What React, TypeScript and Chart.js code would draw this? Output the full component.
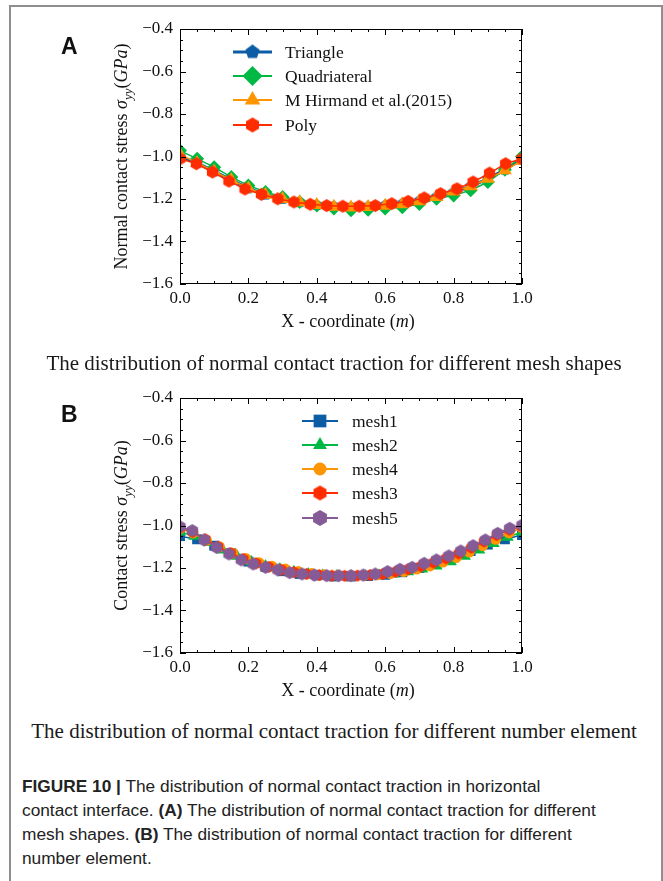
import React, { useEffect, useRef } from 'react';
import { Chart, registerables } from 'chart.js';
import { drawPoint } from 'chart.js/helpers';
Chart.register(...registerables);

// ---------- tick values ----------
const xTicks = [0, 0.2, 0.4, 0.6, 0.8, 1.0];
const yTicks = [-1.6, -1.4, -1.2, -1.0, -0.8, -0.6, -0.4];
const xMinor = [0.05, 0.1, 0.15, 0.25, 0.3, 0.35, 0.45, 0.5, 0.55, 0.65, 0.7, 0.75, 0.85, 0.9, 0.95];
const yMinor = [-1.55, -1.5, -1.45, -1.35, -1.3, -1.25, -1.15, -1.1, -1.05, -0.95, -0.9, -0.85, -0.75, -0.7, -0.65, -0.55, -0.5, -0.45];

// ---------- node coordinates ----------
const x21 = [0, 0.05, 0.1, 0.15, 0.2, 0.25, 0.3, 0.35, 0.4, 0.45, 0.5, 0.55, 0.6, 0.65, 0.7, 0.75, 0.8, 0.85, 0.9, 0.95, 1.0];
const x22 = [0, 0.048, 0.095, 0.143, 0.19, 0.238, 0.286, 0.333, 0.381, 0.429, 0.476, 0.524, 0.571, 0.619, 0.667, 0.714, 0.762, 0.81, 0.857, 0.905, 0.952, 1.0];
const x25 = [0, 0.042, 0.083, 0.125, 0.167, 0.208, 0.25, 0.292, 0.333, 0.375, 0.417, 0.458, 0.5, 0.542, 0.583, 0.625, 0.667, 0.708, 0.75, 0.792, 0.833, 0.875, 0.917, 0.958, 1.0];
const x27 = [0, 0.038, 0.077, 0.115, 0.154, 0.192, 0.231, 0.269, 0.308, 0.346, 0.385, 0.423, 0.462, 0.5, 0.538, 0.577, 0.615, 0.654, 0.692, 0.731, 0.769, 0.808, 0.846, 0.885, 0.923, 0.962, 1.0];
const x28 = [0, 0.037, 0.074, 0.111, 0.148, 0.185, 0.222, 0.259, 0.296, 0.333, 0.37, 0.407, 0.444, 0.481, 0.519, 0.556, 0.593, 0.63, 0.667, 0.704, 0.741, 0.778, 0.815, 0.852, 0.889, 0.926, 0.963, 1.0];
const x29 = [0, 0.036, 0.071, 0.107, 0.143, 0.179, 0.214, 0.25, 0.286, 0.321, 0.357, 0.393, 0.429, 0.464, 0.5, 0.536, 0.571, 0.607, 0.643, 0.679, 0.714, 0.75, 0.786, 0.821, 0.857, 0.893, 0.929, 0.964, 1.0];

// ---------- panel A series ----------
const triangleY = [-1.0, -1.03, -1.07, -1.11, -1.15, -1.18, -1.2, -1.215, -1.228, -1.235, -1.238, -1.236, -1.23, -1.222, -1.208, -1.19, -1.168, -1.14, -1.105, -1.062, -1.01];
const quadY = [-0.972, -1.011, -1.05, -1.097, -1.136, -1.167, -1.191, -1.214, -1.23, -1.245, -1.253, -1.25, -1.245, -1.239, -1.224, -1.199, -1.183, -1.159, -1.12, -1.062, -1.0];
const hirmandY = [-0.99, -1.03, -1.07, -1.11, -1.15, -1.18, -1.2, -1.215, -1.228, -1.236, -1.24, -1.238, -1.232, -1.225, -1.21, -1.19, -1.165, -1.14, -1.105, -1.065, -1.02];
const polyY = [-1.011, -1.034, -1.073, -1.116, -1.153, -1.178, -1.199, -1.214, -1.225, -1.231, -1.234, -1.234, -1.231, -1.222, -1.211, -1.195, -1.175, -1.152, -1.12, -1.078, -1.034, -1.011];

// ---------- panel B series ----------
const mesh1Y = [-1.05, -1.065, -1.095, -1.13, -1.17, -1.195, -1.215, -1.228, -1.235, -1.24, -1.24, -1.238, -1.232, -1.22, -1.2, -1.178, -1.15, -1.12, -1.09, -1.065, -1.045];
const mesh2Y = [-1.03, -1.05, -1.08, -1.115, -1.145, -1.17, -1.19, -1.205, -1.218, -1.228, -1.235, -1.238, -1.24, -1.238, -1.235, -1.228, -1.218, -1.205, -1.19, -1.17, -1.145, -1.115, -1.085, -1.055, -1.03];
const mesh4Y = [-1.015, -1.035, -1.07, -1.1, -1.13, -1.155, -1.175, -1.192, -1.205, -1.217, -1.226, -1.232, -1.235, -1.237, -1.235, -1.232, -1.226, -1.217, -1.205, -1.19, -1.172, -1.15, -1.125, -1.095, -1.065, -1.035, -1.01];
const mesh3Y = [-1.01, -1.03, -1.065, -1.1, -1.13, -1.158, -1.178, -1.195, -1.208, -1.22, -1.228, -1.233, -1.236, -1.237, -1.236, -1.233, -1.228, -1.218, -1.206, -1.192, -1.175, -1.155, -1.132, -1.105, -1.075, -1.045, -1.02, -1.005];
const mesh5Y = [-1.006, -1.024, -1.068, -1.103, -1.134, -1.162, -1.181, -1.197, -1.209, -1.222, -1.228, -1.233, -1.236, -1.236, -1.236, -1.233, -1.228, -1.217, -1.206, -1.197, -1.178, -1.162, -1.143, -1.12, -1.095, -1.068, -1.037, -1.013, -0.998];

const labelsA = ['Triangle', 'Quadriateral', 'M Hirmand et al.(2015)', 'Poly'];
const labelsB = ['mesh1', 'mesh2', 'mesh4', 'mesh3', 'mesh5'];

const BLUE = '#0C5DA5';
const GREEN = '#00B945';
const ORANGE = '#FF9500';
const RED = '#FF2C00';
const PURPLE = '#845B97';

const SERIF = '"Liberation Serif", "Times New Roman", serif';
const SANS = '"Liberation Sans", Arial, sans-serif';
const TICK_SIZE = 17;
const TITLE_SIZE = 18;
const LEGEND_SIZE = 17.5;

type Seg = { t: string; it?: boolean; sub?: boolean };

function makePoly(sides: number, r: number, color: string): HTMLCanvasElement {
  const s = Math.ceil(2 * r + 2);
  const c = document.createElement('canvas');
  c.width = s;
  c.height = s;
  const g = c.getContext('2d')!;
  g.fillStyle = color;
  g.beginPath();
  for (let k = 0; k < sides; k++) {
    const a = -Math.PI / 2 + (k * 2 * Math.PI) / sides;
    const px = s / 2 + r * Math.cos(a);
    const py = s / 2 + r * Math.sin(a);
    if (k === 0) g.moveTo(px, py);
    else g.lineTo(px, py);
  }
  g.closePath();
  g.fill();
  return c;
}

function drawRich(ctx: CanvasRenderingContext2D, segs: Seg[], cx: number, baseY: number, size: number) {
  const fontOf = (s: Seg) => `${s.it ? 'italic ' : ''}${s.sub ? Math.round(size * 0.7) : size}px ${SERIF}`;
  let total = 0;
  const widths = segs.map((s) => {
    ctx.font = fontOf(s);
    const w = ctx.measureText(s.t).width;
    total += w;
    return w;
  });
  let x = cx - total / 2;
  ctx.textAlign = 'left';
  ctx.textBaseline = 'alphabetic';
  segs.forEach((s, i) => {
    ctx.font = fontOf(s);
    ctx.fillText(s.t, x, baseY + (s.sub ? size * 0.25 : 0));
    x += widths[i];
  });
}

type LegendItem = { label: string; color: string; style: any; radius: number; lineWidth: number };

function sciPlugin(yTitle: Seg[], xTitle: Seg[], legend: LegendItem[], lx0: number, lx1: number, tx: number, rows: number[]) {
  return {
    id: 'sci',
    afterDatasetsDraw(chart: any) {
      const ctx: CanvasRenderingContext2D = chart.ctx;
      const a = chart.chartArea;
      const xs = chart.scales.x;
      const ys = chart.scales.y;
      ctx.save();
      ctx.strokeStyle = '#000';
      ctx.lineWidth = 1;
      ctx.strokeRect(a.left + 0.5, a.top + 0.5, a.right - a.left - 1, a.bottom - a.top - 1);
      ctx.beginPath();
      const tickX = (v: number, len: number) => {
        const p = Math.round(xs.getPixelForValue(v)) + 0.5;
        ctx.moveTo(p, a.bottom);
        ctx.lineTo(p, a.bottom - len);
        ctx.moveTo(p, a.top);
        ctx.lineTo(p, a.top + len);
      };
      const tickY = (v: number, len: number) => {
        const p = Math.round(ys.getPixelForValue(v)) + 0.5;
        ctx.moveTo(a.left, p);
        ctx.lineTo(a.left + len, p);
        ctx.moveTo(a.right, p);
        ctx.lineTo(a.right - len, p);
      };
      xTicks.forEach((v) => tickX(v, 6));
      xMinor.forEach((v) => tickX(v, 3));
      yTicks.forEach((v) => tickY(v, 6));
      yMinor.forEach((v) => tickY(v, 3));
      ctx.stroke();

      ctx.fillStyle = '#111';
      // x title
      drawRich(ctx, xTitle, (a.left + a.right) / 2 - 3, a.bottom + 43, TITLE_SIZE);
      // y title
      ctx.save();
      ctx.translate(a.left - 53, (a.top + a.bottom) / 2);
      ctx.rotate(-Math.PI / 2);
      drawRich(ctx, yTitle, 0, 0, TITLE_SIZE);
      ctx.restore();

      // legend
      legend.forEach((it, i) => {
        const y = rows[i];
        ctx.strokeStyle = it.color;
        ctx.lineWidth = it.lineWidth;
        ctx.beginPath();
        ctx.moveTo(lx0, y);
        ctx.lineTo(lx1, y);
        ctx.stroke();
        ctx.fillStyle = it.color;
        drawPoint(ctx, { pointStyle: it.style, radius: it.radius, rotation: 0, borderWidth: 0 } as any, (lx0 + lx1) / 2, y);
        ctx.fillStyle = '#111';
        ctx.font = `${LEGEND_SIZE}px ${SERIF}`;
        ctx.textAlign = 'left';
        ctx.textBaseline = 'middle';
        ctx.fillText(it.label, tx, y + 1);
      });
      ctx.restore();
    },
  };
}

function pts(xs: number[], ys: number[]) {
  return xs.map((x, i) => ({ x, y: ys[i] }));
}

function baseOptions(): any {
  const fmt = (v: number) => (v < 0 ? '\u2212' + Math.abs(v).toFixed(1) : v.toFixed(1));
  return {
    responsive: false,
    animation: false,
    devicePixelRatio: 1,
    layout: { padding: { top: 29, right: 141, left: 0, bottom: 0 } },
    plugins: { legend: { display: false }, tooltip: { enabled: false } },
    scales: {
      x: {
        type: 'linear',
        min: 0,
        max: 1,
        grid: { display: false, drawTicks: false },
        border: { display: false },
        afterBuildTicks: (s: any) => {
          s.ticks = xTicks.map((v) => ({ value: v }));
        },
        afterFit: (s: any) => {
          s.height = 56;
        },
        ticks: { padding: 4, color: '#111', font: { family: SERIF, size: TICK_SIZE }, callback: (v: any) => fmt(Number(v)), maxRotation: 0, autoSkip: false },
      },
      y: {
        type: 'linear',
        min: -1.6,
        max: -0.4,
        grid: { display: false, drawTicks: false },
        border: { display: false },
        afterBuildTicks: (s: any) => {
          s.ticks = yTicks.map((v) => ({ value: v }));
        },
        afterFit: (s: any) => {
          s.width = 180;
        },
        ticks: { padding: 7, color: '#111', font: { family: SERIF, size: TICK_SIZE }, callback: (v: any) => fmt(Number(v)), autoSkip: false },
      },
    },
  };
}

function ChartA() {
  const ref = useRef<HTMLCanvasElement>(null);
  useEffect(() => {
    const pent = makePoly(5, 6, BLUE);
    const hex = makePoly(6, 6.5, RED);
    const pentL = makePoly(5, 7.5, BLUE);
    const hexL = makePoly(6, 7.5, RED);
    const ds = [
      { label: labelsA[0], data: pts(x21, triangleY), borderColor: BLUE, backgroundColor: BLUE, borderWidth: 3, pointStyle: pent, pointRadius: 6, order: 3 },
      { label: labelsA[1], data: pts(x21, quadY), borderColor: GREEN, backgroundColor: GREEN, borderWidth: 1.5, pointStyle: 'rectRot', pointRadius: 7, order: 2 },
      { label: labelsA[2], data: pts(x21, hirmandY), borderColor: ORANGE, backgroundColor: ORANGE, borderWidth: 1.5, pointStyle: 'triangle', pointRadius: 8, order: 1 },
      { label: labelsA[3], data: pts(x22, polyY), borderColor: RED, backgroundColor: RED, borderWidth: 1.5, pointStyle: hex, pointRadius: 6, order: 0 },
    ].map((d) => ({ ...d, pointBorderWidth: 0, clip: 0, tension: 0 }));
    const legend: LegendItem[] = [
      { label: labelsA[0], color: BLUE, style: pentL, radius: 7, lineWidth: 3 },
      { label: labelsA[1], color: GREEN, style: 'rectRot', radius: 10, lineWidth: 2 },
      { label: labelsA[2], color: ORANGE, style: 'triangle', radius: 9, lineWidth: 2 },
      { label: labelsA[3], color: RED, style: hexL, radius: 7, lineWidth: 2 },
    ];
    const chart = new Chart(ref.current!, {
      type: 'line',
      data: { datasets: ds as any },
      options: baseOptions(),
      plugins: [
        sciPlugin(
          [{ t: 'Normal contact stress ' }, { t: '\u03C3', it: true }, { t: 'yy', it: true, sub: true }, { t: '(' }, { t: 'GPa', it: true }, { t: ')' }],
          [{ t: 'X - coordinate (' }, { t: 'm', it: true }, { t: ')' }],
          legend,
          233,
          272,
          285,
          [52, 76, 100, 125]
        ) as any,
      ],
    });
    return () => chart.destroy();
  }, []);
  return <canvas ref={ref} width={663} height={340} style={{ position: 'absolute', left: 0, top: 0 }} />;
}

function ChartB() {
  const ref = useRef<HTMLCanvasElement>(null);
  useEffect(() => {
    const hexR = makePoly(6, 6, RED);
    const hexP = makePoly(6, 6.5, PURPLE);
    const hexRL = makePoly(6, 7.5, RED);
    const hexPL = makePoly(6, 8, PURPLE);
    const ds = [
      { label: labelsB[0], data: pts(x21, mesh1Y), borderColor: BLUE, backgroundColor: BLUE, pointStyle: 'rect', pointRadius: 7, order: 4 },
      { label: labelsB[1], data: pts(x25, mesh2Y), borderColor: GREEN, backgroundColor: GREEN, pointStyle: 'triangle', pointRadius: 7, order: 3 },
      { label: labelsB[2], data: pts(x27, mesh4Y), borderColor: ORANGE, backgroundColor: ORANGE, pointStyle: 'circle', pointRadius: 5.5, order: 2 },
      { label: labelsB[3], data: pts(x28, mesh3Y), borderColor: RED, backgroundColor: RED, pointStyle: hexR, pointRadius: 6, order: 1 },
      { label: labelsB[4], data: pts(x29, mesh5Y), borderColor: PURPLE, backgroundColor: PURPLE, pointStyle: hexP, pointRadius: 6.5, order: 0 },
    ].map((d) => ({ ...d, borderWidth: 1.5, pointBorderWidth: 0, clip: 0, tension: 0 }));
    const legend: LegendItem[] = [
      { label: labelsB[0], color: BLUE, style: 'rect', radius: 9, lineWidth: 2 },
      { label: labelsB[1], color: GREEN, style: 'triangle', radius: 8, lineWidth: 2 },
      { label: labelsB[2], color: ORANGE, style: 'circle', radius: 6.5, lineWidth: 2 },
      { label: labelsB[3], color: RED, style: hexRL, radius: 7, lineWidth: 2 },
      { label: labelsB[4], color: PURPLE, style: hexPL, radius: 8, lineWidth: 2 },
    ];
    const chart = new Chart(ref.current!, {
      type: 'line',
      data: { datasets: ds as any },
      options: baseOptions(),
      plugins: [
        sciPlugin(
          [{ t: 'Contact stress ' }, { t: '\u03C3', it: true }, { t: 'yy', it: true, sub: true }, { t: '(' }, { t: 'GPa', it: true }, { t: ')' }],
          [{ t: 'X - coordinate (' }, { t: 'm', it: true }, { t: ')' }],
          legend,
          302,
          338,
          352,
          [52, 76, 100, 124, 149]
        ) as any,
      ],
    });
    return () => chart.destroy();
  }, []);
  return <canvas ref={ref} width={663} height={340} style={{ position: 'absolute', left: 0, top: 369 }} />;
}

export default function App() {
  const sub: React.CSSProperties = {
    position: 'absolute',
    left: 0,
    width: 668,
    textAlign: 'center',
    fontFamily: SERIF,
    fontSize: 21,
    lineHeight: '24px',
    color: '#1a1a1a',
    whiteSpace: 'nowrap',
  };
  const letter: React.CSSProperties = {
    position: 'absolute',
    left: 61,
    fontFamily: SANS,
    fontWeight: 'bold',
    fontSize: 23,
    lineHeight: '24px',
    color: '#111',
  };
  return (
    <div style={{ position: 'fixed', left: 0, top: 0, width: 663, height: 881, background: '#fff', overflow: 'hidden' }}>
      <div
        style={{
          position: 'absolute',
          left: 9,
          top: 5,
          width: 650,
          height: 900,
          borderTop: '2px solid #8e8e8e',
          borderLeft: '2px solid #8e8e8e',
          borderRight: '2px solid #8e8e8e',
        }}
      />
      <ChartA />
      <ChartB />
      <div style={{ ...letter, top: 34 }}>A</div>
      <div style={{ ...letter, top: 402 }}>B</div>
      <div style={{ ...sub, top: 351 }}>The distribution of normal contact traction for different mesh shapes</div>
      <div style={{ ...sub, top: 719 }}>The distribution of normal contact traction for different number element</div>
      <div
        style={{
          position: 'absolute',
          left: 22,
          top: 774,
          fontFamily: SANS,
          fontSize: 17.3,
          lineHeight: '24px',
          color: '#222',
          whiteSpace: 'nowrap',
        }}
      >
        <b>FIGURE 10 |</b> The distribution of normal contact traction in horizontal
        <br />
        contact interface. <b>(A)</b> The distribution of normal contact traction for different
        <br />
        mesh shapes. <b>(B)</b> The distribution of normal contact traction for different
        <br />
        number element.
      </div>
    </div>
  );
}
